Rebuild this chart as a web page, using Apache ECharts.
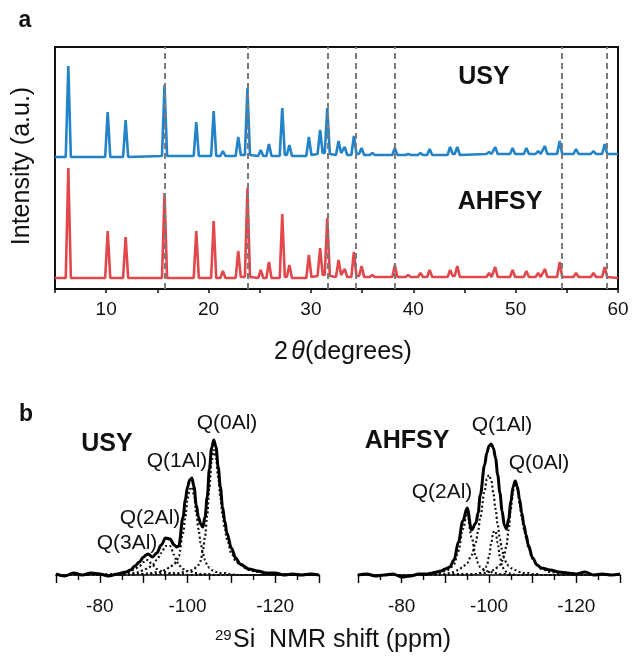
<!DOCTYPE html>
<html>
<head>
<meta charset="utf-8">
<script src="https://cdn.jsdelivr.net/npm/echarts/dist/echarts.min.js"></script>
<style>
html,body{margin:0;padding:0;background:#fff;}
#main{width:633px;height:658px;}
</style>
</head>
<body>
<div id="main"></div>
<script>
// ---- panel a: XRD patterns (2theta, intensity in a.u.) ----
const twoTheta = [5,
  6.05, 6.3, 6.55,   9.9, 10.15, 10.4,   11.65, 11.9, 12.15,  15.45, 15.7, 15.95,
  18.55, 18.8, 19.05, 20.25, 20.5, 20.75, 21.15, 21.4, 21.65,  22.65, 22.9, 23.15,
  23.55, 23.8, 24.05, 24.85, 25.1, 25.35, 25.65, 25.9, 26.15,  26.95, 27.2, 27.45,
  27.65, 27.9, 28.15, 29.55, 29.8, 30.05, 30.65, 30.9, 31.15,  31.35, 31.6, 31.85,
  32.45, 32.7, 32.95, 33.05, 33.3, 33.55, 33.95, 34.2, 34.45,  34.7, 34.95, 35.2,
  35.75, 36.0, 36.25, 37.95, 38.2, 38.45, 39.25, 39.5, 39.75,  40.45, 40.7, 40.95,
  41.35, 41.6, 41.85, 43.35, 43.6, 43.85, 44.05, 44.3, 44.55,  47.15, 47.4, 47.65,
  47.75, 48.0, 48.25, 49.45, 49.7, 49.95, 50.8, 51.05, 51.3,   51.95, 52.2, 52.45,
  52.6, 52.85, 53.1,  54.05, 54.3, 54.55, 55.65, 55.9, 56.15,  57.35, 57.6, 57.85,
  58.45, 58.7, 58.95,
  60];
const usyI = [132,
  132,223,132, 132,177,132, 132,169,132, 133,204,133,
  133,167,133, 133,178,133, 133,138,133, 133,152,134,
  134,201,134, 133,139,133, 133,145,133, 133,181,134,
  134,144,133, 133,152,134, 135,159,136, 136,181,135,
  134,148,136, 136,142,134, 134,153,135, 135,141,134,
  134,136,134, 134,141,134, 134,135,134, 134,136,134,
  134,140,134, 134,142,135, 135,142,134, 135,137,135,
  135,142,135, 135,141,135, 135,141,135, 135,138,135,
  135,143,135, 135,148,135, 135,140,135, 135,138,135,
  135,145,135,
  135];
const ahfsyI = [11,
  11,121,11, 11,58,11, 11,52,11, 11,96,11,
  11,58,11, 11,68,11, 11,18,11, 11,38,12,
  12,101,12, 11,19,11, 11,27,11, 11,75,12,
  12,24,11, 11,34,12, 13,41,14, 14,71,13,
  12,29,14, 14,20,12, 12,37,13, 13,23,12,
  12,14,12, 12,24,12, 12,14,12, 12,16,12,
  12,19,12, 12,19,13, 13,23,12, 12,16,12,
  12,22,12, 12,19,12, 12,18,12, 12,16,12,
  12,20,12, 12,27,12, 12,16,12, 12,16,12,
  12,22,12,
  11];
const refLines = [15.7, 23.8, 31.6, 34.4, 38.2, 54.5, 58.9];
const xrdTicks = [10, 20, 30, 40, 50, 60];

// ---- panel b: 29Si NMR (shift in ppm, intensity in a.u.) ----
const nmrShift = [-70,-72,-74,-76,-78,-80,-82,-84,-86,
  -87,-88,-89,-90,-90.5,-91,-92,-93,-94,-95,-96,
  -97,-97.5,-98,-99,-99.5,-100,-100.5,-101,-101.5,-102,-102.5,-103,-103.5,-104,-104.5,-105,-105.5,-106,-106.5,-107,-107.5,-108,-108.5,-109,
  -110,-111,-112,-114,-116,-118,-120,-122,-124,-126,-128,-130];
const usyTotal = [1,-1,2,0,2,1,-1,1,3,
  5,9,13,18,20,21,18,22,30,37,36,
  30,28,29,58,75,88,95,97,88,70,58,51,48,58,78,106,127,135,128,108,88,68,54,42,
  27,17,11,6,4,2,2,0,1,0,1,0];
const usyQ0 = [0,0,0,0,0,0,0,0,1,
  1,1,1,1,1,1,1,1,1,1,1,
  2,2,2,3,3,4,4,5,6,8,10,14,24,38,60,88,114,125,118,98,78,60,46,36,
  22,14,10,5,3,2,1,1,0,0,0,0];
const usyQ1 = [0,0,0,0,0,0,0,0,0,
  0,0,1,1,1,2,2,3,3,5,8,
  11,14,19,42,58,76,86,88,80,62,46,32,22,15,10,7,5,4,3,3,2,2,2,1,
  1,0,0,0,0,0,0,0,0,0,0,0];
const usyQ2 = [0,0,0,0,0,0,1,1,1,
  2,2,3,5,6,7,10,15,22,29,29,
  20,14,10,6,5,4,3,3,2,2,2,1,1,1,1,1,1,0,0,0,0,0,0,0,
  0,0,0,0,0,0,0,0,0,0,0,0];
const usyQ3 = [0,0,0,0,0,0,0,1,3,
  4,6,9,13,15,15,10,6,4,3,2,
  1,1,1,1,1,0,0,0,0,0,0,0,0,0,0,0,0,0,0,0,0,0,0,0,
  0,0,0,0,0,0,0,0,0,0,0,0];
const ahfsyTotal = [0,1,-1,0,1,-2,-1,1,1,
  2,3,4,6,7,8,15,33,54,67,45,
  52,62,80,110,122,129,131,127,117,100,82,64,50,46,56,73,88,94,88,76,62,50,40,30,
  17,10,7,5,3,2,1,3,0,1,0,1];
const ahfsyQ2 = [0,0,0,0,0,0,0,0,1,
  1,2,3,4,5,6,11,24,46,62,38,
  18,12,8,5,4,3,3,2,2,2,1,1,1,1,0,0,0,0,0,0,0,0,0,0,
  0,0,0,0,0,0,0,0,0,0,0,0];
const ahfsyQ1a = [0,0,0,0,0,0,0,0,0,
  0,1,1,1,2,2,3,5,8,12,20,
  33,44,58,84,96,100,95,82,66,50,36,25,17,12,9,7,6,5,4,3,3,2,2,2,
  1,1,0,0,0,0,0,0,0,0,0,0];
const ahfsyQ1b = [0,0,0,0,0,0,0,0,0,
  0,0,0,0,0,0,0,0,0,0,0,
  1,1,2,5,9,18,32,43,44,32,18,9,5,3,2,1,1,0,0,0,0,0,0,0,
  0,0,0,0,0,0,0,0,0,0,0,0];
const ahfsyQ0 = [0,0,0,0,0,0,0,0,0,
  0,0,0,0,0,0,1,1,1,1,1,
  1,2,2,2,3,3,4,5,6,8,10,14,20,30,45,66,84,92,86,72,58,46,37,28,
  16,10,6,3,2,1,1,0,0,0,0,0];
const nmrTicks = [-80, -100, -120];

const FONT = '"Liberation Sans", Arial, sans-serif';
const BLUE = '#2283c8';
const RED = '#e2474b';

function txt(x, y, text, size, weight, rot) {
  return {
    type: 'text', x: x, y: y, rotation: rot || 0, silent: true,
    style: {
      text: text, fontSize: size, fontWeight: weight || 'normal', fontFamily: FONT,
      fill: '#111', align: 'center', verticalAlign: 'middle',
      textAlign: 'center', textVerticalAlign: 'middle'
    }
  };
}

function nmrLine(vals, idx, total) {
  return {
    type: 'line', xAxisIndex: idx, yAxisIndex: idx, silent: true,
    data: nmrShift.map((x, i) => [x, vals[i]]),
    showSymbol: false, smooth: 0.35, smoothMonotone: 'x',
    lineStyle: total ? { color: '#000', width: 3 } : { color: '#111', width: 2.2, type: [2, 2.5] },
    z: total ? 5 : 3
  };
}

function nmrAxis(idx) {
  return {
    type: 'value', gridIndex: idx, inverse: true, min: -130, max: -70, interval: 10,
    axisLine: { show: true, lineStyle: { color: '#000', width: 1.6 } },
    axisTick: { show: true, inside: false, length: 8, lineStyle: { color: '#000', width: 1.4 } },
    minorTick: { show: true, splitNumber: 2, length: 5, lineStyle: { color: '#000', width: 1.4 } },
    axisLabel: {
      margin: 12, fontSize: 19, color: '#111', fontFamily: FONT,
      formatter: v => nmrTicks.includes(v) ? String(v) : ''
    },
    splitLine: { show: false }, minorSplitLine: { show: false }
  };
}

const chart = echarts.init(document.getElementById('main'));
chart.setOption({
  animation: false,
  backgroundColor: '#fff',
  grid: [
    { left: 55, top: 47, width: 563, height: 242, show: true, borderColor: '#111', borderWidth: 2, backgroundColor: 'transparent' },
    { left: 56, top: 430, width: 263, height: 155 },
    { left: 358, top: 430, width: 262, height: 155 }
  ],
  xAxis: [
    {
      type: 'value', gridIndex: 0, min: 5, max: 60, interval: 5,
      axisLine: { show: true, lineStyle: { color: '#111', width: 2 } },
      axisTick: { show: true, inside: false, length: 4, lineStyle: { color: '#111', width: 1.5 } },
      axisLabel: {
        margin: 11, fontSize: 19, color: '#111', fontFamily: FONT,
        formatter: v => xrdTicks.includes(v) ? String(v) : ''
      },
      splitLine: { show: false }
    },
    nmrAxis(1),
    nmrAxis(2)
  ],
  yAxis: [
    { type: 'value', gridIndex: 0, min: 0, max: 242, show: false },
    { type: 'value', gridIndex: 1, min: -10, max: 145, show: false },
    { type: 'value', gridIndex: 2, min: -10, max: 145, show: false }
  ],
  series: [
    {
      type: 'line', xAxisIndex: 0, yAxisIndex: 0, data: [], silent: true, z: 1,
      markLine: {
        silent: true, symbol: 'none', label: { show: false },
        lineStyle: { color: '#7a7a7a', width: 2, type: [6, 4] },
        data: refLines.map(v => ({ xAxis: v }))
      }
    },
    {
      name: 'USY', type: 'line', xAxisIndex: 0, yAxisIndex: 0, silent: true,
      data: twoTheta.map((x, i) => [x, usyI[i]]), showSymbol: false,
      lineStyle: { color: BLUE, width: 2.6 }, z: 3
    },
    {
      name: 'AHFSY', type: 'line', xAxisIndex: 0, yAxisIndex: 0, silent: true,
      data: twoTheta.map((x, i) => [x, ahfsyI[i]]), showSymbol: false,
      lineStyle: { color: RED, width: 2.6 }, z: 3
    },
    nmrLine(usyQ0, 1), nmrLine(usyQ1, 1), nmrLine(usyQ2, 1), nmrLine(usyQ3, 1),
    nmrLine(usyTotal, 1, true),
    nmrLine(ahfsyQ2, 2), nmrLine(ahfsyQ1a, 2), nmrLine(ahfsyQ1b, 2), nmrLine(ahfsyQ0, 2),
    nmrLine(ahfsyTotal, 2, true)
  ],
  graphic: [
    txt(25, 21, 'a', 23, 'bold'),
    txt(484, 77, 'USY', 25, 'bold'),
    txt(500, 202, 'AHFSY', 25, 'bold'),
    txt(22, 166, 'Intensity (a.u.)', 25, 'normal', Math.PI / 2),
    {
      type: 'text', x: 343, y: 352, silent: true,
      style: {
        text: '{n|2}{s| }{t|θ}{n|(degrees)}', align: 'center', verticalAlign: 'middle',
        textAlign: 'center', textVerticalAlign: 'middle', fill: '#111',
        rich: {
          n: { fontSize: 25, fontFamily: FONT, fill: '#111' },
          s: { fontSize: 12, fontFamily: FONT, fill: '#111' },
          t: { fontSize: 25, fontFamily: FONT, fontStyle: 'italic', fill: '#111' }
        }
      }
    },
    txt(26, 415, 'b', 23, 'bold'),
    txt(107, 444, 'USY', 25, 'bold'),
    txt(407, 441, 'AHFSY', 25, 'bold'),
    txt(227, 423, 'Q(0Al)', 21),
    txt(177, 461, 'Q(1Al)', 21),
    txt(150, 518, 'Q(2Al)', 21),
    txt(127, 543, 'Q(3Al)', 21),
    txt(502, 425, 'Q(1Al)', 21),
    txt(539, 463, 'Q(0Al)', 21),
    txt(442, 492, 'Q(2Al)', 21),
    {
      type: 'text', x: 215, y: 636, silent: true,
      style: { text: '29', fontSize: 15, fontFamily: FONT, fill: '#111', align: 'left', verticalAlign: 'middle', textAlign: 'left', textVerticalAlign: 'middle' }
    },
    {
      type: 'text', x: 233, y: 640, silent: true,
      style: { text: 'Si  NMR shift (ppm)', fontSize: 25, fontFamily: FONT, fill: '#111', align: 'left', verticalAlign: 'middle', textAlign: 'left', textVerticalAlign: 'middle' }
    }
  ]
});
</script>
</body>
</html>
